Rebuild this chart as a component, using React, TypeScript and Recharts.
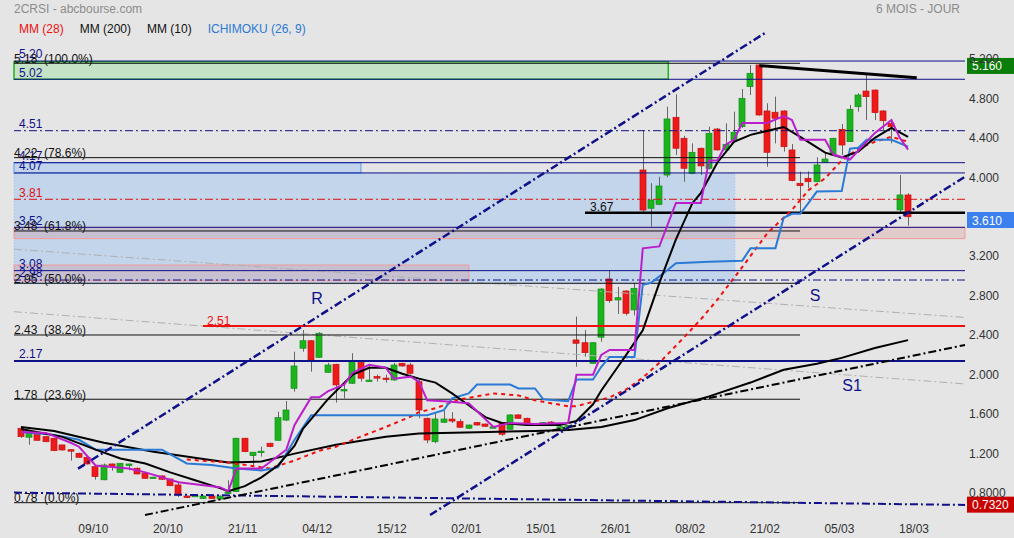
import React from "react";
import {
  ComposedChart,
  Bar,
  Line,
  XAxis,
  YAxis,
  ReferenceLine,
  ReferenceArea,
  ReferenceDot,
} from "recharts";

// daily candles, 2CRSI, oct -> mar
const opens = [
  1.457, 1.366, 1.396, 1.372, 1.356, 1.288, 1.24, 1.203, 1.163, 1.068,
  0.935, 1.095, 1.011, 1.088, 1.052, 1.001, 0.958, 0.974, 0.943, 0.883,
  0.77, 0.775, 0.745, 0.77, 0.74, 0.8, 0.815, 1.356, 1.18, 1.22,
  1.305, 1.335, 1.54, 1.862, 2.268, 2.344, 2.176, 2.024, 2.105, 1.845,
  1.913, 2.122, 1.94, 1.98, 1.965, 1.946, 2.115, 2.098, 1.929, 1.558,
  1.321, 1.518, 1.55, 1.524, 1.457, 1.514, 1.5, 1.47, 1.514, 1.447,
  1.592, 1.558, 1.5, 1.49, 1.52, 1.47, 1.48, 2.352, 2.324, 2.115,
  2.379, 2.97, 2.757, 2.848, 2.656, 4.074, 3.686, 3.726, 4.023, 4.608,
  4.395, 4.04, 4.294, 4.091, 4.489, 4.277, 4.378, 4.513, 4.918, 5.138,
  4.672, 4.659, 4.672, 4.277, 3.939, 3.99, 3.955, 4.152, 4.226, 4.486,
  4.361, 4.715, 4.874, 4.884, 4.672, 4.547, 3.669, 3.821,
];
const highs = [
  1.47, 1.41, 1.4, 1.38, 1.36, 1.29, 1.245, 1.21, 1.17, 1.07,
  1.1, 1.1, 1.105, 1.1, 1.06, 1.005, 0.965, 0.98, 0.945, 0.92,
  0.775, 0.785, 0.775, 0.775, 0.775, 0.93, 1.36, 1.36, 1.215, 1.27,
  1.31, 1.625, 1.733, 2.233, 2.453, 2.35, 2.43, 2.12, 2.11, 1.93,
  2.217, 2.13, 2.11, 2.0, 2.0, 2.12, 2.12, 2.12, 1.95, 1.565,
  1.61, 1.632, 1.62, 1.55, 1.495, 1.52, 1.505, 1.48, 1.52, 1.6,
  1.6, 1.565, 1.51, 1.52, 1.53, 1.48, 1.49, 2.588, 2.453, 2.33,
  2.875, 3.061, 2.89, 2.855, 2.926, 4.479, 3.94, 4.006, 4.715, 4.841,
  4.42, 4.344, 4.3, 4.513, 4.5, 4.547, 4.665, 4.895, 5.138, 5.145,
  4.75, 4.817, 4.68, 4.337, 4.057, 4.06, 4.203, 4.243, 4.4, 4.54,
  4.733, 4.851, 5.036, 4.89, 4.68, 4.58, 4.023, 3.838,
];
const lows = [
  1.36, 1.29, 1.33, 1.315, 1.225, 1.23, 1.13, 1.16, 1.09, 0.936,
  0.93, 1.027, 1.005, 1.03, 0.99, 0.945, 0.95, 0.935, 0.87, 0.76,
  0.75, 0.77, 0.74, 0.74, 0.735, 0.795, 0.81, 1.215, 1.08, 1.17,
  1.265, 1.33, 1.53, 1.828, 2.233, 2.03, 2.17, 2.02, 1.717, 1.76,
  1.905, 1.93, 1.93, 1.93, 1.92, 1.94, 2.08, 2.0, 1.558, 1.305,
  1.305, 1.51, 1.51, 1.46, 1.45, 1.485, 1.47, 1.465, 1.38, 1.44,
  1.55, 1.49, 1.48, 1.48, 1.5, 1.46, 1.47, 2.081, 2.183, 2.11,
  2.334, 2.729, 2.615, 2.6, 2.6, 3.65, 3.5, 3.72, 4.0, 4.226,
  3.955, 4.03, 4.023, 4.08, 4.27, 4.27, 4.37, 4.5, 4.834, 4.625,
  4.107, 4.344, 4.26, 3.96, 3.65, 3.89, 3.95, 4.15, 4.22, 4.226,
  4.36, 4.665, 4.581, 4.58, 4.479, 4.344, 3.635, 3.51,
];
const closes = [
  1.372, 1.406, 1.335, 1.321, 1.23, 1.237, 1.235, 1.163, 1.095, 0.967,
  1.085, 1.068, 1.102, 1.095, 0.994, 0.95, 0.962, 0.94, 0.875, 0.781,
  0.757, 0.778, 0.77, 0.745, 0.77, 0.81, 1.356, 1.22, 1.214, 1.225,
  1.271, 1.565, 1.642, 2.088, 2.344, 2.149, 2.42, 2.098, 1.896, 1.85,
  2.132, 1.964, 1.945, 1.965, 1.95, 2.098, 2.088, 2.014, 1.642, 1.338,
  1.551, 1.551, 1.53, 1.467, 1.49, 1.49, 1.477, 1.472, 1.396, 1.592,
  1.558, 1.5, 1.502, 1.514, 1.51, 1.472, 1.485, 2.318, 2.223, 2.324,
  2.868, 2.75, 2.78, 2.622, 2.875, 3.668, 3.77, 3.912, 4.591, 4.294,
  4.091, 4.253, 4.115, 4.446, 4.277, 4.334, 4.456, 4.8, 5.054, 4.631,
  4.253, 4.598, 4.31, 3.966, 3.915, 3.955, 4.125, 4.185, 4.395, 4.327,
  4.689, 4.834, 4.817, 4.655, 4.573, 4.513, 3.821, 3.6,
];

const tickIdx = [8, 17, 26, 35, 44, 53, 62, 71, 80, 89, 98, 107];
const tickDates = ["09/10", "20/10", "21/11", "04/12", "15/12", "02/01", "15/01", "26/01", "08/02", "21/02", "05/03", "18/03"];
const priceTicks = [0.8, 1.2, 1.6, 2.0, 2.4, 2.8, 3.2, 4.0, 4.4, 4.8, 5.2];

// indicator readings [candle index, value]
const mm28Pts = [[20,1.14],[25,1.11],[30,1.05],[33,1.13],[36,1.23],[38,1.27],[40,1.34],[44,1.47],[47,1.575],[48,1.62],[50,1.66],[53,1.75],[57,1.81],[60,1.79],[62,1.74],[66,1.68],[67,1.68],[71,1.77],[73,1.85],[75,1.97],[77,2.12],[80,2.38],[82,2.56],[84,2.76],[87,3.09],[90,3.43],[93,3.67],[95,3.87],[97,3.99],[99,4.17],[101,4.29],[103,4.36],[105,4.41],[107,4.36]];
const mm200Pts = [[0,1.47],[4,1.43],[10,1.31],[16,1.22],[22,1.145],[25,1.11],[29,1.12],[33,1.2],[38,1.29],[44,1.37],[48,1.405],[55,1.416],[62,1.43],[66,1.44],[70,1.47],[74,1.54],[78,1.66],[83,1.78],[88,1.92],[92,2.05],[96,2.11],[99,2.17],[103,2.27],[107,2.35]];
const mm10Pts = [[0,1.45],[5,1.37],[9,1.24],[12,1.15],[15,1.1],[18,1.01],[21,0.93],[24,0.85],[25,0.82],[27,0.87],[29,0.96],[31,1.08],[33,1.28],[34,1.45],[35,1.55],[37,1.75],[40,2.0],[42,2.07],[44,2.07],[46,2.01],[48,1.96],[50,1.92],[52,1.81],[54,1.69],[56,1.57],[58,1.51],[61,1.49],[65,1.49],[67,1.53],[69,1.7],[70,1.84],[72,2.08],[73,2.2],[75,2.45],[77,2.93],[79,3.37],[81,3.74],[82,3.84],[84,4.15],[86,4.36],[88,4.43],[92,4.51],[94,4.41],[97,4.25],[99,4.2],[101,4.26],[103,4.4],[105,4.5],[107,4.41]];
const tenkanPts = [[0,1.42],[3,1.41],[6,1.31],[7,1.27],[9,1.08],[13,1.05],[15,1.01],[19,0.91],[24,0.86],[25,0.82],[26,1.05],[29,1.05],[32,1.24],[33,1.49],[35,1.77],[36,1.77],[37,1.83],[39,1.9],[40,2.02],[42,2.1],[44,2.07],[45,1.96],[47,1.98],[48,1.93],[49,1.74],[51,1.73],[54,1.71],[57,1.47],[59,1.51],[62,1.5],[66,1.51],[67,2.0],[69,2.0],[70,2.2],[71,2.25],[74,2.25],[75,3.28],[77,3.3],[79,3.74],[82,3.74],[83,4.17],[84,4.17],[85,4.33],[86,4.38],[87,4.55],[90,4.55],[92,4.62],[93,4.58],[94,4.38],[97,4.38],[98,4.23],[100,4.18],[103,4.45],[105,4.58],[106,4.4],[107,4.28]];
const kijunPts = [[0,1.42],[4,1.39],[7,1.34],[9,1.24],[17,1.24],[20,1.1],[23,1.085],[26,1.05],[29,1.03],[31,1.06],[33,1.34],[35,1.59],[49,1.59],[51,1.64],[52,1.76],[54,1.81],[55,1.9],[59,1.9],[60,1.86],[62,1.86],[63,1.75],[66,1.73],[67,1.95],[69,1.95],[70,2.08],[71,2.18],[74,2.18],[75,2.91],[76,2.93],[78,3.06],[79,3.13],[83,3.145],[87,3.155],[88,3.28],[91,3.28],[92,3.59],[93,3.63],[94,3.63],[95,3.74],[96,3.855],[99,3.86],[100,4.29],[101,4.3],[102,4.38],[105,4.38],[107,4.31]];

// drawn levels
const navyLevels = [5.178, 4.993, 4.148, 4.044, 3.493, 3.054, 2.139];
const navyTexts = ["5.20", "5.02", "4.17", "4.07", "3.52", "3.08", "2.17"];
const dashLevels = [4.472, 2.959];
const dashTexts = ["4.51", "2.98"];
const fibLevels = [5.155, 4.199, 3.456, 2.926, 2.402, 1.751, 0.703];
const fibTexts = ["5.18  (100.0%)", "4.22  (78.6%)", "3.48  (61.8%)", "2.95  (50.0%)", "2.43  (38.2%)", "1.78  (23.6%)", "0.78  (0.0%)"];
const fibEnd = 93.97;
const redDash = 3.777;
const redLine = { from: 21.95, v: 2.493 };
const blackLine = { from: 68.03, v: 3.641 };
const xMin = -0.844;
const xMax = 113.87;

const trendR = [[6.88, 1.048], [89.75, 5.462]];
const trendS = [[49.34, 0.578], [113.87, 4.006]];
const trendS1 = [[14.96, 0.578], [113.87, 2.301]];
const trendTop = [[89.06, 5.131], [108.05, 5.009]];
const trendLow = [[xMin, 0.805], [113.87, 0.68]];
const grayA = [[xMin, 3.271], [113.87, 2.58]];
const grayB = [[xMin, 2.638], [113.87, 1.906]];

const greenZone = [78.08, 4.993, 5.171];
const blueZone = [86.13, 2.919, 4.044];
const blueSmall = [41.0, 4.044, 4.148];
const pinkFull = [3.378, 3.493];
const pinkShort = [54.04, 2.952, 3.111];

const tags = [
  { text: "R", x: 35.7, v: 2.777 },
  { text: "S", x: 95.8, v: 2.807 },
  { text: "S1", x: 100.24, v: 1.896 },
];
const priceTags = [
  { text: "5.160", v: 5.128, bg: "#0b7d0b" },
  { text: "3.610", v: 3.567, bg: "#3c80f0" },
  { text: "0.7320", v: 0.683, bg: "#c80000" },
];

const toSeries = (pts: number[][]) => {
  const arr: (number | null)[] = opens.map(() => null);
  pts.forEach(([i, v]) => (arr[i] = v));
  return arr;
};
const mm28 = toSeries(mm28Pts);
const mm200 = toSeries(mm200Pts);
const mm10 = toSeries(mm10Pts);
const tenkan = toSeries(tenkanPts);
const kijun = toSeries(kijunPts);

const data = opens.map((o, i) => ({
  i,
  o,
  h: highs[i],
  l: lows[i],
  c: closes[i],
  range: [lows[i], highs[i]],
  mm28: mm28[i],
  mm200: mm200[i],
  mm10: mm10[i],
  tenkan: tenkan[i],
  kijun: kijun[i],
}));

const NAVY = "#10108a";

const Candle = (props: any) => {
  const { x, y, width, height, payload } = props;
  if (!payload) return null;
  const { o, h, l, c } = payload;
  const top = Math.min(y, y + height);
  const hp = Math.abs(height);
  const k = hp / (h - l);
  const py = (v: number) => top + (h - v) * k;
  const up = c >= o;
  const bt = py(Math.max(o, c));
  const bb = py(Math.min(o, c));
  const cx = Math.round(x + width / 2) + 0.5;
  const bx = Math.round(x);
  return (
    <g>
      <line x1={cx} x2={cx} y1={top} y2={top + hp} stroke="#666" strokeWidth={1} />
      <rect
        x={bx}
        y={bt}
        width={6}
        height={Math.max(bb - bt, 1.5)}
        fill={up ? "#1cb41c" : "#ee1a1a"}
        stroke={up ? "#11901a" : "#c81010"}
        strokeWidth={0.7}
      />
    </g>
  );
};

const lvl = (text: string, color: string, dx: number, dy: number) => (p: any) => (
  <text
    x={p.viewBox.x + dx}
    y={p.viewBox.y - dy}
    fill={color}
    fontSize={12}
    style={{ whiteSpace: "pre" }}
  >
    {text}
  </text>
);

const tagLabel = (text: string, bg: string) => (p: any) => {
  const x = p.viewBox.x + p.viewBox.width + 2;
  return (
    <g>
      <rect x={x} y={p.viewBox.y - 8} width={47} height={16} fill={bg} />
      <text x={x + 5} y={p.viewBox.y + 4.5} fill="#fff" fontSize={12}>
        {text}
      </text>
    </g>
  );
};

const seg = (s: number[][]) => [
  { x: s[0][0], y: s[0][1] },
  { x: s[1][0], y: s[1][1] },
];

export default function App() {
  return (
    <div
      style={{
        position: "absolute",
        left: 0,
        top: 0,
        width: 1014,
        height: 538,
        background: "#e5e5e5",
        fontFamily: "'Liberation Sans', Arial, sans-serif",
        overflow: "hidden",
      }}
    >
      <div style={{ position: "absolute", left: 0, top: 0 }}>
        <ComposedChart
          width={1014}
          height={538}
          data={data}
          margin={{ top: 40, right: 4, bottom: 2, left: 14 }}
        >
          <XAxis
            dataKey="i"
            type="number"
            domain={[xMin, xMax]}
            allowDataOverflow
            ticks={tickIdx}
            interval={0}
            tickFormatter={(v: number) => tickDates[tickIdx.indexOf(v)] ?? ""}
            axisLine={false}
            tickLine={false}
            height={20}
            tick={{ fontSize: 12, fill: "#333", dx: 6 }}
          />
          <YAxis
            orientation="right"
            type="number"
            domain={[0.568, 5.391]}
            allowDataOverflow
            ticks={priceTicks}
            interval={0}
            tickFormatter={(v: number) => (v < 1 ? v.toFixed(4) : v.toFixed(3))}
            axisLine={false}
            tickLine={false}
            tickSize={0}
            tickMargin={4}
            width={45}
            tick={{ fontSize: 12, fill: "#333" }}
          />

          <ReferenceArea x1={xMin} x2={blueZone[0]} y1={blueZone[1]} y2={blueZone[2]} fill="#c2d5eb" fillOpacity={1} stroke="#a9c6ee" strokeDasharray="1 2" />
          <ReferenceArea x1={xMin} x2={blueSmall[0]} y1={blueSmall[1]} y2={blueSmall[2]} fill="#c2d5eb" fillOpacity={1} stroke="#7fb0f4" strokeWidth={1.5} />
          <ReferenceArea x1={xMin} x2={greenZone[0]} y1={greenZone[1]} y2={greenZone[2]} fill="#c6e2c6" fillOpacity={1} stroke="#1fb51f" strokeWidth={1.5} />
          <ReferenceArea y1={pinkFull[0]} y2={pinkFull[1]} fill="#d47878" fillOpacity={0.22} stroke="#f29a9a" />
          <ReferenceArea x1={xMin} x2={pinkShort[0]} y1={pinkShort[1]} y2={pinkShort[2]} fill="#d47878" fillOpacity={0.22} stroke="#f29a9a" />

          <ReferenceLine segment={seg(grayA)} stroke="#b0b0b0" strokeDasharray="8 3 2 3" ifOverflow="visible" />
          <ReferenceLine segment={seg(grayB)} stroke="#b0b0b0" strokeDasharray="8 3 2 3" ifOverflow="visible" />

          {navyLevels.map((v, k) => (
            <ReferenceLine key={"n" + k} y={v} stroke={NAVY} strokeWidth={v === 2.139 ? 2 : 1} label={lvl(navyTexts[k], NAVY, 5, 2.7)} />
          ))}
          {dashLevels.map((v, k) => (
            <ReferenceLine key={"d" + k} y={v} stroke={NAVY} strokeDasharray="8 3 2 3" label={lvl(dashTexts[k], NAVY, 5, 2.7)} />
          ))}
          <ReferenceLine y={redDash} stroke="#e01010" strokeDasharray="8 3 2 3" label={lvl("3.81", "#e01010", 5, 2.7)} />
          {fibLevels.map((v, k) => (
            <ReferenceLine
              key={"f" + k}
              segment={[{ x: xMin, y: v }, { x: fibEnd, y: v }]}
              stroke="#111"
              label={lvl(fibTexts[k], "#111", 0, 0.7)}
            />
          ))}
          <ReferenceLine
            segment={[{ x: redLine.from, y: redLine.v }, { x: xMax, y: redLine.v }]}
            stroke="#f01010"
            strokeWidth={2}
            label={lvl("2.51", "#f01010", 4, 1.2)}
          />
          <ReferenceLine
            segment={[{ x: blackLine.from, y: blackLine.v }, { x: xMax, y: blackLine.v }]}
            stroke="#000"
            strokeWidth={2.5}
            label={lvl("3.67", "#111", 5, 2)}
          />
          <ReferenceLine segment={seg(trendLow)} stroke={NAVY} strokeWidth={2} strokeDasharray="8 3 2 3" ifOverflow="visible" />
          <ReferenceLine segment={seg(trendS1)} stroke="#000" strokeWidth={2} strokeDasharray="8 3 2 3" ifOverflow="visible" />

          <Bar dataKey="range" barSize={6} shape={Candle} isAnimationActive={false} />

          <Line dataKey="mm200" stroke="#000" strokeWidth={2} dot={false} connectNulls isAnimationActive={false} />
          <Line dataKey="mm28" stroke="#f01010" strokeWidth={2} strokeDasharray="4 4" dot={false} connectNulls isAnimationActive={false} />
          <Line dataKey="kijun" stroke="#2a7ad6" strokeWidth={2} dot={false} connectNulls isAnimationActive={false} />
          <Line dataKey="mm10" stroke="#000" strokeWidth={2} dot={false} connectNulls isAnimationActive={false} />
          <Line dataKey="tenkan" stroke="#bb1fcc" strokeWidth={2} dot={false} connectNulls isAnimationActive={false} />

          <ReferenceLine segment={seg(trendR)} stroke={NAVY} strokeWidth={2.5} strokeDasharray="8 3 2 3" ifOverflow="visible" />
          <ReferenceLine segment={seg(trendS)} stroke={NAVY} strokeWidth={2.5} strokeDasharray="8 3 2 3" ifOverflow="visible" />
          <ReferenceLine segment={seg(trendTop)} stroke="#000" strokeWidth={3} ifOverflow="visible" />

          {tags.map((t) => (
            <ReferenceDot
              key={t.text}
              x={t.x}
              y={t.v}
              r={0}
              fill="none"
              stroke="none"
              label={(p: any) => (
                <text x={p.viewBox.x} y={p.viewBox.y + 6} fill={NAVY} fontSize={16} textAnchor="middle">
                  {t.text}
                </text>
              )}
            />
          ))}
          {priceTags.map((t) => (
            <ReferenceLine key={t.text} y={t.v} stroke="none" ifOverflow="visible" label={tagLabel(t.text, t.bg)} />
          ))}
        </ComposedChart>
      </div>
      <div style={{ position: "absolute", left: 14, top: 2, fontSize: 12, color: "#8c8c8c" }}>2CRSI - abcbourse.com</div>
      <div style={{ position: "absolute", right: 54, top: 2, fontSize: 12, color: "#8c8c8c" }}>6 MOIS - JOUR</div>
      <div style={{ position: "absolute", left: 19, top: 22, fontSize: 12, whiteSpace: "pre" }}>
        <span style={{ color: "#f01010" }}>MM (28)</span>
        <span style={{ color: "#111", marginLeft: 16 }}>MM (200)</span>
        <span style={{ color: "#111", marginLeft: 16 }}>MM (10)</span>
        <span style={{ color: "#2a7ad6", marginLeft: 16 }}>ICHIMOKU (26, 9)</span>
      </div>
    </div>
  );
}
